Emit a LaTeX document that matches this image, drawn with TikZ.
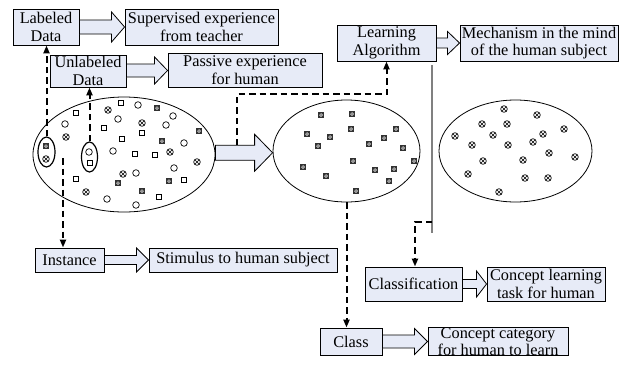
\documentclass[tikz,border=0pt]{standalone}
\usepackage{fontspec}
\setmainfont{Liberation Serif}
\usetikzlibrary{arrows.meta,calc,shapes.geometric}
\definecolor{boxfill}{RGB}{231,235,247}
\definecolor{markdark}{RGB}{50,50,50}

\tikzset{
  box/.style={draw=black, line width=0.9pt, fill=boxfill, inner sep=0pt,
    align=center, font=\fontsize{16.3}{17.5}\selectfont},
  barrow/.style={draw=black, line width=0.8pt, fill=boxfill, line join=miter},
  link/.style={draw=black, line width=2pt, dash pattern=on 6.5pt off 4pt,
    -{Triangle[length=8pt,width=6pt]}},
  set/.style={draw=black, line width=0.8pt, ellipse, inner sep=0pt},
  subset/.style={draw=black, line width=1.2pt, ellipse, inner sep=0pt},
  mcirc/.pic={\draw[line width=0.7pt] (0,0) circle[radius=3.3pt];},
  msq/.pic={\draw[line width=0.7pt] (-2.4pt,-2.4pt) rectangle (2.4pt,2.4pt);},
  motimes/.pic={\draw[line width=0.7pt] (0,0) circle[radius=3.3pt];
    \draw[line width=0.55pt] (-2.3pt,-2.3pt) -- (2.3pt,2.3pt) (-2.3pt,2.3pt) -- (2.3pt,-2.3pt);},
  mbox/.pic={\fill[markdark] (-3.1pt,-3.1pt) rectangle (3.1pt,3.1pt);
    \draw[white, line width=0.5pt] (0,0) circle[radius=1.4pt];},
}

% hollow block arrow from the east side of #1 to the west side of #2
% #3 shaft half-height, #4 head half-height, #5 head length (pt)
\newcommand{\hollowarrow}[5]{%
  \draw[barrow] let \p1=(#1.east), \p2=(#2.west),
      \p3=($(#1.east)!0.5!(#2.west)$) in
    (\x1,\y3+#3pt) -- (\x2-#5pt,\y3+#3pt) -- (\x2-#5pt,\y3+#4pt) -- (\x2,\y3)
    -- (\x2-#5pt,\y3-#4pt) -- (\x2-#5pt,\y3-#3pt) -- (\x1,\y3-#3pt) -- cycle;}

\begin{document}
\begin{tikzpicture}[x=1pt,y=-1pt]
\useasboundingbox (0,0) rectangle (622,365);

% sets of instances
\node[set, minimum width=182pt, minimum height=115pt] (e1) at (124,154.5) {};
\node[set, minimum width=147pt, minimum height=102pt] (e2) at (346.5,151) {};
\node[set, minimum width=153pt, minimum height=102pt] (e3) at (515.5,151) {};

% unlabeled / labeled instances in the full set
\foreach \x/\y in {138/105,118/119,173/116,65/124,166/125,184/143,113/151,
    174/168,136/173,107/199,136/205,89/152}
  \pic at (\x,\y) {mcirc};
\foreach \x/\y in {121/103,76/113,104/128,122/139,142/133,135/154,155/155,
    76/179,184/180,159/197,90/163}
  \pic at (\x,\y) {msq};
\foreach \x/\y in {108/110,142/123,66/137,170/152,197/162,123/174,86/192,46/159}
  \pic at (\x,\y) {motimes};
\foreach \x/\y in {157/108,199/131,162/141,118/183,169/181,142/191,46/146}
  \pic at (\x,\y) {mbox};

% one class
\foreach \x/\y in {321/115,352/114,351/129,307/134,330/137,318/146,396/129,
    384/138,369/144,403/148,414/161,353/161,303/167,326/176,375/170,394/169,
    389/181,356/191}
  \pic at (\x,\y) {mbox};

% another class
\foreach \x/\y in {504/109,537/115,482/124,507/124,564/129,455/136,493/135,
    543/134,472/145,508/145,533/142,549/153,575/157,483/161,523/160,468/174,
    525/178,548/178,499/192}
  \pic at (\x,\y) {motimes};

% single labeled and unlabeled samples
\node[subset, minimum width=17pt, minimum height=30pt] (s1) at (46.5,152) {};
\node[subset, minimum width=16pt, minimum height=30pt] (s2) at (89.5,157) {};

% concept boxes
\node[box, minimum width=66pt, minimum height=36pt] (lab) at (46,27) {Labeled\\Data};
\node[box, minimum width=153pt, minimum height=36pt] (sup) at (201.5,27) {Supervised experience\\from teacher};
\node[box, minimum width=76pt, minimum height=32pt] (unl) at (88,71) {Unlabeled\\Data};
\node[box, minimum width=154pt, minimum height=34pt] (pas) at (245,70) {Passive experience\\for human};
\node[box, minimum width=99pt, minimum height=36pt] (alg) at (386.5,43) {Learning\\Algorithm};
\node[box, minimum width=158pt, minimum height=36pt] (mec) at (539,43) {Mechanism in the mind\\of the human subject};
\node[box, minimum width=69pt, minimum height=24pt] (ins) at (69.5,260) {Instance};
\node[box, minimum width=188pt, minimum height=24pt] (sti) at (243,260) {Stimulus to human subject};
\node[box, minimum width=97pt, minimum height=34pt] (cls) at (413.5,284) {Classification};
\node[box, minimum width=118pt, minimum height=34pt] (clt) at (546,284) {Concept learning\\task for human};
\node[box, minimum width=62pt, minimum height=27pt] (cla) at (351,341.5) {Class};
\node[box, minimum width=140pt, minimum height=27pt] (cat) at (498,341.5) {Concept category\\for human to learn};

% correspondence arrows
\hollowarrow{e1}{e2}{7.5}{18.5}{18}
\hollowarrow{lab}{sup}{7}{15}{13}
\hollowarrow{unl}{pas}{6.5}{13.5}{13}
\hollowarrow{alg}{mec}{5}{11.5}{12}
\hollowarrow{ins}{sti}{4.5}{12}{12}
\hollowarrow{cls}{clt}{4.5}{13}{10}
\hollowarrow{cla}{cat}{6.5}{13}{13}

% boundary between the two classes
\coordinate (g1) at (432,65);
\coordinate (g2) at (432,233);
\coordinate (g3) at (432,222);
\draw[gray, line width=1.2pt] (g1) -- (g2);

% dashed references
\coordinate (c3) at (63,158);
\coordinate (c4) at (237,145);
\coordinate (c4turn) at (237,94);
\draw[link] (s1.north) -- (s1.north |- lab.south);
\draw[link] (s2.north) -- (s2.north |- unl.south);
\draw[link] (c3) -- (c3 |- ins.north);
\draw[link] (c4) -- (c4turn) -| (alg.south);
\draw[link] (e2.south) -- (e2.south |- cla.north);
\draw[link] (g3) -| ($(cls.north)+(1.5,0)$);
\end{tikzpicture}
\end{document}
